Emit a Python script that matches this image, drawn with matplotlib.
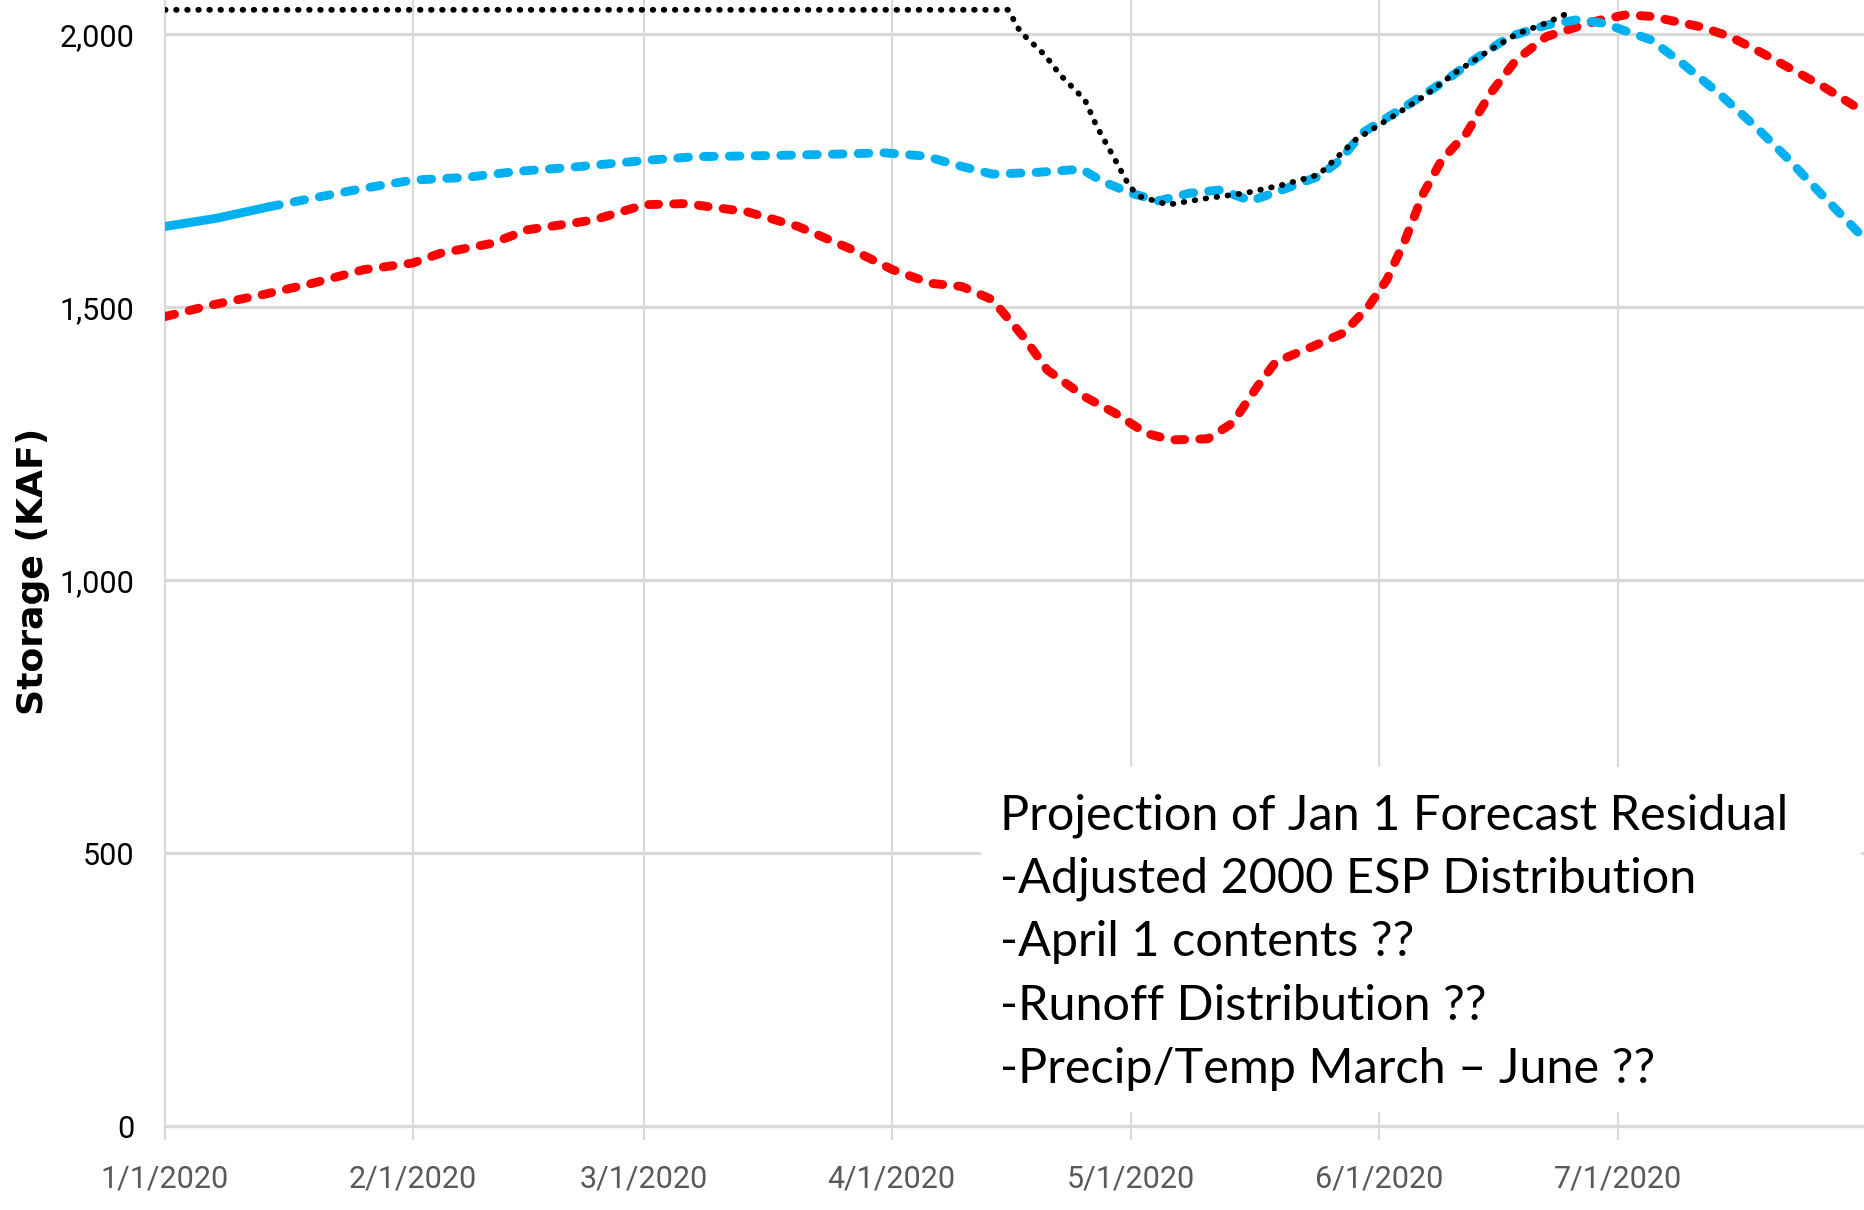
import numpy as np
import pandas as pd
import matplotlib
matplotlib.use("Agg")
import matplotlib.pyplot as plt
from matplotlib.patches import Rectangle

# data: days after 1/1/2020 and storage (KAF)
start = pd.Timestamp("2020-01-01")

obs_days = [0, 6.4, 13]
obs_vals = [1648, 1663, 1684]

proj_days = [13, 18.5, 24.9, 31, 37.7, 44.1, 50.5, 60.1, 66.5, 76, 82.4, 90.1, 95.2,
             99.8, 103.6, 109, 114.8, 117.5, 121, 124.4, 128.3, 132.2, 136, 139.9,
             144.5, 147.2, 149.9, 152, 156, 159.9, 164.5, 168.4, 173, 176.9, 179.9,
             182, 186.1, 190, 194.6, 199.2, 203, 207.7, 213]
proj_vals = [1684, 1700, 1718, 1733, 1738, 1749, 1756, 1769, 1776, 1778, 1780, 1783, 1777,
             1758, 1744, 1747, 1753, 1730, 1709, 1695, 1709, 1715, 1695, 1715,
             1740, 1770, 1819, 1838, 1874, 1911, 1959, 1996, 2017, 2027, 2021,
             2011, 1990, 1947, 1892, 1831, 1776, 1703, 1623]

red_days = [0, 5.8, 12.2, 18.5, 24.9, 31, 34.5, 40.9, 45.4, 53.7, 60.1, 65.2, 72.9, 79.3,
            85.7, 91.1, 95.9, 99.8, 103.6, 107.5, 110.5, 115.2, 119, 122.9, 126, 130.6,
            133.7, 136.8, 139.1, 143.7, 147.6, 150.7, 153, 155.3, 157.6, 159.9, 163,
            166, 169.2, 173, 176.9, 179.9, 183, 186.1, 192.3, 196, 200, 204.6, 207.7, 213]
red_vals = [1483, 1504, 1523, 1544, 1569, 1581, 1599, 1617, 1642, 1660, 1688, 1690, 1675, 1648,
            1608, 1569, 1544, 1538, 1514, 1446, 1385, 1336, 1306, 1269, 1257, 1259,
            1288, 1355, 1400, 1428, 1453, 1501, 1550, 1623, 1709, 1770, 1819,
            1892, 1953, 1996, 2014, 2027, 2036, 2033, 2014, 1996, 1966, 1929, 1904, 1856]

blk_days = [0, 105.6, 107.1, 110.2, 112.1, 115.2, 116.7, 119, 120.8, 122.1, 125.6, 130.6,
            135.2, 139.9, 144.5, 149.1, 153.7, 157.6, 161.5, 166, 169.2, 173, 175.7]
blk_vals = [2045, 2045, 2005, 1962, 1926, 1880, 1831, 1770, 1721, 1703, 1688, 1700,
            1709, 1724, 1743, 1807, 1849, 1886, 1929, 1972, 2000, 2021, 2039]

y_ticks = [0, 500, 1000, 1500, 2000]
x_ticks = ["2020-01-01", "2020-02-01", "2020-03-01", "2020-04-01",
           "2020-05-01", "2020-06-01", "2020-07-01"]

notes = ["Projection of Jan 1 Forecast Residual",
         "-Adjusted 2000 ESP Distribution",
         "-April 1 contents ??",
         "-Runoff Distribution ??",
         "-Precip/Temp March \u2013 June ??"]


def to_dates(days):
    return start + pd.to_timedelta(np.array(days), unit="D")


narrow = ["Liberation Sans Narrow", "Roboto", "DejaVu Sans"]
grid_c = "#D9D9D9"

fig = plt.figure(figsize=(18.65, 12.10), dpi=100)
ax = fig.add_axes([165 / 1865, 1 - 1126 / 1210, 1 - 165 / 1865, 1126 / 1210])

ax.plot(to_dates(red_days), red_vals, color="#FF0000", lw=6.4,
        dashes=(1.1, 1.7), dash_capstyle="round", dash_joinstyle="round", zorder=3)
ax.plot(to_dates(proj_days), proj_vals, color="#00B0F0", lw=6.4,
        dashes=(1.2, 1.7), dash_capstyle="round", dash_joinstyle="round", zorder=3)
ax.plot(to_dates(obs_days), obs_vals, color="#00B0F0", lw=6.4,
        solid_capstyle="round", zorder=3)
ax.plot(to_dates(blk_days), blk_vals, color="black", lw=4.2,
        dashes=(0.1, 1.8), dash_capstyle="round", zorder=4)

ax.set_xlim(start, start + pd.Timedelta(days=212.9))
ax.set_ylim(0, 2063)

ax.set_yticks(y_ticks)
ax.set_yticklabels([f"{v:,}" for v in y_ticks], family=narrow, fontsize=22, color="black")
ax.set_xticks(pd.to_datetime(x_ticks))
ax.set_xticklabels([f"{d.month}/1/2020" for d in pd.to_datetime(x_ticks)],
                   family=narrow, fontsize=22, color="#595959")
ax.tick_params(axis="y", length=0, pad=22)
ax.tick_params(axis="x", length=10, width=1.5, color=grid_c, pad=18, direction="out")

ax.set_axisbelow(True)
ax.grid(axis="y", color=grid_c, lw=2.2)
ax.grid(axis="x", color=grid_c, lw=1.5)
for s in ["top", "right"]:
    ax.spines[s].set_visible(False)
ax.spines["bottom"].set_color(grid_c)
ax.spines["bottom"].set_linewidth(2.4)
ax.spines["left"].set_color(grid_c)
ax.spines["left"].set_linewidth(1.5)

fig.text(33 / 1865, 1 - 571 / 1210, "Storage (KAF)", rotation=90, ha="center", va="center",
         family="DejaVu Sans", fontweight="bold", fontsize=26)

# white box behind the notes
box = Rectangle((981 / 1865, 1 - 1112 / 1210), 880 / 1865, 345 / 1210,
                transform=fig.transFigure, facecolor="white", edgecolor="none",
                zorder=1, clip_on=False)
ax.add_patch(box)

for i, line in enumerate(notes):
    fig.text(1000 / 1865, 1 - (829 + 63.5 * i) / 1210, line, ha="left", va="baseline",
             family=["Lato", "DejaVu Sans"], fontsize=35, color="black")

fig.savefig("out.png", dpi=100)
